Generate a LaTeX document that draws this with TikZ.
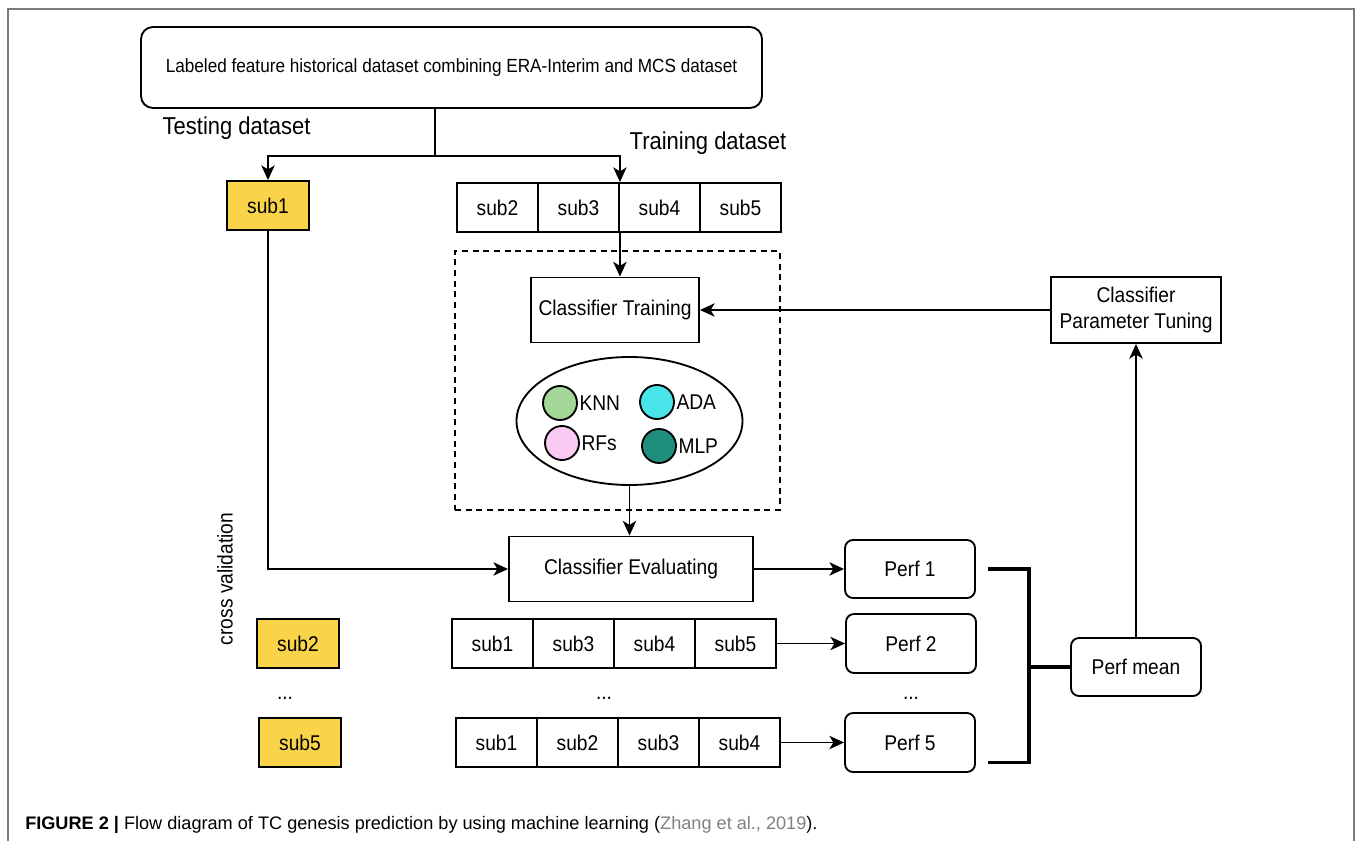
\documentclass[tikz,border=0pt]{standalone}
\usepackage{fontspec}
\setmainfont{Liberation Sans}
\newfontfamily\dfont[FakeStretch=0.9]{Liberation Sans}
\usetikzlibrary{arrows.meta,shapes.geometric,calc}
\definecolor{subyellow}{RGB}{250,212,72}
\definecolor{knn}{RGB}{163,216,150}
\definecolor{ada}{RGB}{72,228,234}
\definecolor{rfs}{RGB}{250,202,243}
\definecolor{mlp}{RGB}{32,142,125}
\definecolor{framegray}{RGB}{122,122,122}
\definecolor{citegray}{RGB}{128,128,128}
\begin{document}
\begin{tikzpicture}[x=0.75pt,y=-0.75pt,
  sz/.style 2 args={minimum width=#1*0.75pt, minimum height=#2*0.75pt, inner sep=0pt},
  box/.style={draw, line width=1.4pt, font=\dfont\fontsize{16}{19}\selectfont},
  rbox/.style={box, rounded corners=6pt},
  ybox/.style={box, fill=subyellow, sz={82}{49}},
  cell/.style={box, sz={81}{49}},
  ln/.style={line width=1.4pt},
  arr/.style={line width=1.4pt, -{Stealth[length=11pt,width=10pt,inset=3pt]}},
  lbl/.style={font=\dfont\fontsize{18.3}{22}\selectfont},
  txt/.style={font=\dfont\fontsize{16}{19}\selectfont, inner sep=1pt},
  dotc/.style={circle, draw, line width=1.4pt, minimum size=25.5pt, inner sep=0pt},
  brk/.style={line width=2.8pt}
]
\useasboundingbox (0,0) rectangle (1357,841);
% frame
\draw[framegray, line width=1.5pt] (8,841) -- (8,9) -- (1354,9) -- (1354,841);

% top box
\node[draw, line width=1.4pt, rounded corners=9pt, sz={621}{81},
      font=\dfont\fontsize{14.3}{17}\selectfont] (top) at (451.5,67.5)
  {Labeled feature historical dataset combining ERA-Interim and MCS dataset};

\node[lbl, anchor=west] (testlbl) at (158,128) {Testing dataset};
\node[lbl] (trainlbl) at (708,143) {Training dataset};

% sub1 and training block
\node[ybox] (sub1) at (268,205.5) {sub1};
\node[cell] (t2) at (497.5,207.5) {sub2};
\node[cell] (t3) at (578.5,207.5) {sub3};
\node[cell] (t4) at (659.5,207.5) {sub4};
\node[cell] (t5) at (740.5,207.5) {sub5};

\coordinate (j) at (435,156);
\draw[ln] (j |- top.south) -- (j);
\draw[arr] (j) -| (sub1.north);
\draw[arr] (j) -| (t3.north east);

% dashed container
\node[draw, line width=1.4pt, dash pattern=on 4.5pt off 3.5pt, sz={325}{259}] (dbox) at (617.5,380.5) {};

\node[box, sz={168}{65}] (ct) at (615,310) {Classifier Training};
\draw[arr] (t3.south east) -- (t3.south east |- ct.north);

\node[draw, ellipse, line width=1.4pt, sz={226}{128}] (ell) at (629.5,421) {};
\node[dotc, fill=knn] (cknn) at (560,403) {};
\node[txt, anchor=west] (tknn) at (cknn.east) {KNN};
\node[dotc, fill=ada] (cada) at (657,402) {};
\node[txt, anchor=west] (tada) at (cada.east) {ADA};
\node[dotc, fill=rfs] (crfs) at (562,443) {};
\node[txt, anchor=west] (trfs) at (crfs.east) {RFs};
\node[dotc, fill=mlp] (cmlp) at (659,446) {};
\node[txt, anchor=west] (tmlp) at (cmlp.east) {MLP};

% evaluating
\node[box, sz={244}{65}] (ce) at (631,569) {Classifier Evaluating};
\draw[arr] (ell.south) -- (ell.south |- ce.north);
\draw[arr] (sub1.south) |- (ce.west);

% perf boxes
\node[rbox, sz={130}{58}] (p1) at (910,569) {Perf 1};
\node[rbox, sz={130}{59}] (p2) at (911,643.5) {Perf 2};
\node[rbox, sz={130}{59}] (p5) at (910,742.5) {Perf 5};
\node[rbox, sz={130}{58}] (pm) at (1136,667) {Perf mean};
\draw[arr] (ce.east) -- (p1.west);

% cross-validation rows
\node[ybox] (s2) at (298,643.5) {sub2};
\node[ybox] (s5) at (300,742.5) {sub5};
\node[cell] (r21) at (492.5,643.5) {sub1};
\node[cell] (r23) at (573.5,643.5) {sub3};
\node[cell] (r24) at (654.5,643.5) {sub4};
\node[cell] (r25) at (735.5,643.5) {sub5};
\node[cell] (r31) at (496.5,742.5) {sub1};
\node[cell] (r32) at (577.5,742.5) {sub2};
\node[cell] (r33) at (658.5,742.5) {sub3};
\node[cell] (r34) at (739.5,742.5) {sub4};
\draw[arr] (r25.east) -- (p2.west);
\draw[arr] (r34.east) -- (p5.west);

\node[txt] (d1) at (285,698) {...};
\node[txt] (d2) at (604,698) {...};
\node[txt] (d3) at (911,698) {...};

\node[txt, rotate=90] (cv) at (225,579) {cross validation};

% bracket
\coordinate (b1) at ($(p1.east)+(12,0)$);
\coordinate (b5) at ($(p5.east)+(12,20)$);
\coordinate (bv) at (1029,0);
\draw[brk] (b1) -- (b1 -| bv) -- (b5 -| bv) -- (b5);
\draw[brk] (bv |- pm.west) -- (pm.west);

% tuning
\node[box, sz={170}{66}, align=center] (cpt) at (1136,310) {Classifier\\Parameter Tuning};
\draw[arr] (pm.north) -- (cpt.south);
\draw[arr] (cpt.west) -- (ct.east);

% caption
\node[anchor=west, inner sep=0pt, font=\fontsize{13.6}{16}\selectfont] (cap) at (25,825)
  {\textbf{FIGURE 2 |} Flow diagram of TC genesis prediction by using machine learning (\textcolor{citegray}{Zhang et al., 2019}).};
\end{tikzpicture}
\end{document}
